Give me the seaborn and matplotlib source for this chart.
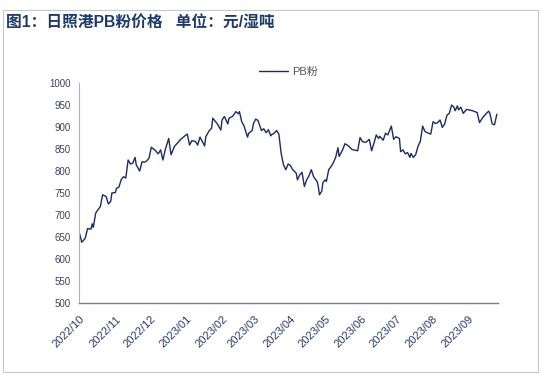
import pandas as pd
import matplotlib.pyplot as plt
import matplotlib.dates as mdates
from matplotlib.patches import Rectangle
import seaborn as sns

# 日照港PB粉价格 (元/湿吨)
dates = [
    "2022-10-01", "2022-10-03", "2022-10-06", "2022-10-08", "2022-10-11", "2022-10-12",
    "2022-10-13", "2022-10-15", "2022-10-17", "2022-10-19", "2022-10-21", "2022-10-24",
    "2022-10-26", "2022-10-28", "2022-10-29", "2022-11-01", "2022-11-02", "2022-11-04",
    "2022-11-06", "2022-11-08", "2022-11-10", "2022-11-12", "2022-11-14", "2022-11-16",
    "2022-11-18", "2022-11-19", "2022-11-22", "2022-11-24", "2022-11-26", "2022-11-28",
    "2022-11-30", "2022-12-02", "2022-12-05", "2022-12-08", "2022-12-10", "2022-12-12",
    "2022-12-14", "2022-12-17", "2022-12-19", "2022-12-22", "2022-12-24", "2022-12-27",
    "2022-12-31", "2023-01-02", "2023-01-04", "2023-01-06", "2023-01-09", "2023-01-11",
    "2023-01-13", "2023-01-15", "2023-01-17", "2023-01-18", "2023-01-21", "2023-01-23",
    "2023-01-24", "2023-01-28", "2023-01-31", "2023-02-01", "2023-02-03", "2023-02-06",
    "2023-02-07", "2023-02-10", "2023-02-13", "2023-02-15", "2023-02-16", "2023-02-18",
    "2023-02-20", "2023-02-23", "2023-02-24", "2023-02-27", "2023-02-28", "2023-03-02",
    "2023-03-04", "2023-03-07", "2023-03-09", "2023-03-11", "2023-03-13", "2023-03-15",
    "2023-03-16", "2023-03-18", "2023-03-20", "2023-03-22", "2023-03-24", "2023-03-26",
    "2023-03-28", "2023-03-30", "2023-04-01", "2023-04-03", "2023-04-06", "2023-04-07",
    "2023-04-09", "2023-04-11", "2023-04-13", "2023-04-15", "2023-04-17", "2023-04-19",
    "2023-04-21", "2023-04-24", "2023-04-25", "2023-04-26", "2023-04-28", "2023-04-29",
    "2023-05-01", "2023-05-02", "2023-05-04", "2023-05-06", "2023-05-08", "2023-05-10",
    "2023-05-12", "2023-05-13", "2023-05-16", "2023-05-18", "2023-05-21", "2023-05-24",
    "2023-05-29", "2023-05-31", "2023-06-02", "2023-06-05", "2023-06-08", "2023-06-10",
    "2023-06-12", "2023-06-14", "2023-06-16", "2023-06-17", "2023-06-20", "2023-06-22",
    "2023-06-24", "2023-06-27", "2023-06-29", "2023-07-01", "2023-07-04", "2023-07-05",
    "2023-07-07", "2023-07-09", "2023-07-11", "2023-07-13", "2023-07-14", "2023-07-16",
    "2023-07-18", "2023-07-20", "2023-07-22", "2023-07-24", "2023-07-26", "2023-07-28",
    "2023-07-31", "2023-08-02", "2023-08-04", "2023-08-06", "2023-08-08", "2023-08-10",
    "2023-08-12", "2023-08-14", "2023-08-16", "2023-08-18", "2023-08-20", "2023-08-21",
    "2023-08-23", "2023-08-24", "2023-08-26", "2023-08-28", "2023-08-31", "2023-09-05",
    "2023-09-09", "2023-09-11", "2023-09-14", "2023-09-17", "2023-09-19", "2023-09-20",
    "2023-09-22", "2023-09-24", "2023-09-26",
]
prices = [
    659, 638, 647, 669, 668, 680,
    672, 704, 712, 719, 746, 742,
    725, 731, 750, 751, 761, 763,
    780, 787, 784, 825, 816, 818,
    831, 814, 800, 821, 820, 823,
    829, 854, 848, 839, 848, 825,
    848, 874, 837, 856, 862, 871,
    880, 884, 859, 869, 867, 859,
    877, 867, 857, 878, 892, 897,
    920, 907, 893, 916, 924, 907,
    920, 924, 935, 930, 935, 912,
    902, 877, 886, 892, 907, 918,
    915, 892, 896, 887, 894, 880,
    883, 886, 892, 884, 840, 814,
    803, 816, 812, 803, 795, 780,
    791, 797, 765, 780, 789, 803,
    787, 776, 765, 746, 754, 774,
    780, 776, 803, 810, 819, 831,
    853, 833, 848, 862, 857, 849,
    846, 876, 867, 865, 872, 846,
    863, 882, 874, 879, 870, 886,
    882, 902, 872, 878, 874, 844,
    848, 839, 842, 831, 840, 831,
    837, 856, 867, 902, 890, 887,
    884, 912, 908, 910, 916, 899,
    907, 927, 931, 950, 945, 937,
    948, 939, 945, 931, 940, 937,
    933, 910, 922, 931, 936, 931,
    907, 905, 929,
]
series_name = "PB粉"
title = "图1：日照港PB粉价格   单位：元/湿吨"
y_ticks = list(range(500, 1001, 50))

navy = "#1c2c5e"
title_color = "#1f3a6b"

sns.set_style("white")
plt.rcParams["font.family"] = ["Liberation Sans", "Noto Sans CJK SC", "DejaVu Sans"]

df = pd.DataFrame({"date": pd.to_datetime(dates), "price": prices})

fig = plt.figure(figsize=(5.41, 3.78), dpi=100)
ax = fig.add_axes([0.1468, 0.1984, 0.7737, 0.582])

sns.lineplot(data=df, x="date", y="price", ax=ax, color=navy, linewidth=1.0,
             label=series_name)

ax.set_xlim(pd.Timestamp("2022-10-01"), pd.Timestamp("2023-09-27"))
ax.set_ylim(500, 1000)
ax.set_yticks(y_ticks)
ax.xaxis.set_major_locator(mdates.MonthLocator())
ax.xaxis.set_major_formatter(mdates.DateFormatter("%Y/%m"))
ax.set_xlabel("")
ax.set_ylabel("")

for lab in ax.get_xticklabels():
    lab.set_rotation(45)
    lab.set_ha("right")
    lab.set_rotation_mode("anchor")
ax.tick_params(axis="x", labelsize=8, length=3, width=0.6, direction="out",
               pad=5, color="#7f8db5", labelcolor="#2a3a66")
ax.tick_params(axis="y", labelsize=7, length=3, width=0.6, direction="out",
               pad=3, color="#a8b2cc", labelcolor="#3c4260")

for side in ["top", "right"]:
    ax.spines[side].set_visible(False)
ax.spines["left"].set_color("#a8b2cc")
ax.spines["left"].set_linewidth(0.8)
ax.spines["bottom"].set_color("#6f7fab")
ax.spines["bottom"].set_linewidth(1.0)

leg = ax.legend(loc="center", bbox_to_anchor=(0.5, 1.05), frameon=False,
                fontsize=8, handlelength=2.6, handletextpad=0.4)
for t in leg.get_texts():
    t.set_color("#555555")

fig.text(0.012, 0.942, title, fontsize=11.3, fontweight="bold", color=title_color,
         va="center", ha="left")

fig.patches.append(Rectangle((0.005, 0.016), 0.99, 0.958, transform=fig.transFigure,
                             fill=False, edgecolor="#c8c8c8", linewidth=0.8))

fig.savefig("out.png", dpi=100)
